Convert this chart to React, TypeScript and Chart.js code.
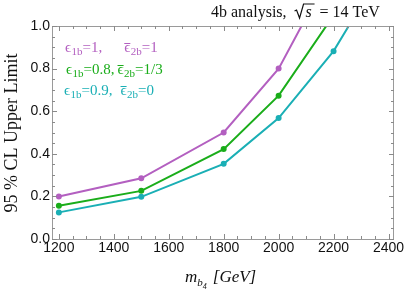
import React, { useEffect, useRef } from "react";
import { Chart, registerables } from "chart.js";

Chart.register(...registerables);

const masses = [1200, 1500, 1800, 2000, 2200, 2400];
const seriesA = [0.2, 0.285, 0.5, 0.8, 1.28, null]; // eps1b=1, eps2b=1
const seriesB = [0.156, 0.226, 0.422, 0.673, 1.05, null]; // eps1b=0.8, eps2b=1/3
const seriesC = [0.125, 0.198, 0.353, 0.568, 0.882, 1.31]; // eps1b=0.9, eps2b=0
const colors = ["#b35fc0", "#1aad1a", "#1aafb5"];
const legendLines = [
  { a: "=1,", b: "=1", gap: 22 },
  { a: "=0.8,", b: "=1/3", gap: 3 },
  { a: "=0.9,", b: "=0", gap: 8 },
];
const xTicks = [1200, 1400, 1600, 1800, 2000, 2200, 2400];
const yTicks = [0, 0.2, 0.4, 0.6, 0.8, 1.0];

const SERIF = "'Liberation Serif', 'DejaVu Serif', serif";

function drawEps(ctx: CanvasRenderingContext2D, x: number, y: number, sub: string, bar: boolean, color: string) {
  ctx.font = `15px ${SERIF}`;
  ctx.fillStyle = color;
  ctx.fillText("ϵ", x, y);
  const w = ctx.measureText("ϵ").width;
  if (bar) {
    ctx.strokeStyle = color;
    ctx.lineWidth = 1;
    ctx.beginPath();
    ctx.moveTo(x, y - 8.5);
    ctx.lineTo(x + w, y - 8.5);
    ctx.stroke();
  }
  ctx.font = `11px ${SERIF}`;
  ctx.fillText(sub, x + w + 0.5, y + 3);
  return x + w + 0.5 + ctx.measureText(sub).width;
}

const decor = {
  id: "decor",
  afterDraw(chart: any) {
    const ctx: CanvasRenderingContext2D = chart.ctx;
    const { left, right, top, bottom } = chart.chartArea;
    const xs = chart.scales.x;
    const ys = chart.scales.y;
    ctx.save();
    // frame
    ctx.strokeStyle = "#9a9a9a";
    ctx.lineWidth = 1;
    ctx.strokeRect(left + 0.5, top + 0.5, right - left - 1, bottom - top);
    // ticks
    ctx.strokeStyle = "#8a8a8a";
    ctx.beginPath();
    for (let v = 1200; v <= 2400; v += 50) {
      const px = Math.round(xs.getPixelForValue(v)) + 0.5;
      const len = v % 200 === 0 ? 5 : 3;
      ctx.moveTo(px, bottom);
      ctx.lineTo(px, bottom - len);
      ctx.moveTo(px, top);
      ctx.lineTo(px, top + len);
    }
    for (let i = 0; i <= 20; i++) {
      const v = i * 0.05;
      const py = Math.round(ys.getPixelForValue(v)) + 0.5;
      const len = i % 4 === 0 ? 5 : 3;
      ctx.moveTo(left, py);
      ctx.lineTo(left + len, py);
      ctx.moveTo(right, py);
      ctx.lineTo(right - len, py);
    }
    ctx.stroke();

    // title
    ctx.fillStyle = "#111";
    ctx.textBaseline = "alphabetic";
    ctx.font = `16px ${SERIF}`;
    let tx = 211;
    const ty = 17;
    ctx.fillText("4b analysis,", tx, ty);
    tx += ctx.measureText("4b analysis,").width + 8;
    // sqrt sign
    ctx.strokeStyle = "#111";
    ctx.lineWidth = 1.2;
    ctx.beginPath();
    ctx.moveTo(tx, ty - 6);
    ctx.lineTo(tx + 2, ty - 7);
    ctx.lineTo(tx + 5, ty + 1);
    ctx.lineTo(tx + 9, ty - 13);
    ctx.lineTo(tx + 20, ty - 13);
    ctx.stroke();
    ctx.font = `italic 16px ${SERIF}`;
    ctx.fillText("s", tx + 11, ty);
    ctx.font = `16px ${SERIF}`;
    ctx.fillText("= 14 TeV", tx + 25, ty);

    // legend-like labels
    const ly = [52, 74, 95];
    const lx = [65, 66, 64];
    legendLines.forEach((l, i) => {
      let x = drawEps(ctx, lx[i], ly[i], "1b", false, colors[i]);
      ctx.font = `15px ${SERIF}`;
      ctx.fillText(l.a, x, ly[i]);
      x += ctx.measureText(l.a).width + l.gap;
      x = drawEps(ctx, x, ly[i], "2b", true, colors[i]);
      ctx.font = `15px ${SERIF}`;
      ctx.fillText(l.b, x, ly[i]);
    });

    // y axis title
    ctx.fillStyle = "#111";
    ctx.save();
    ctx.translate(17, 133);
    ctx.rotate(-Math.PI / 2);
    ctx.font = `18px ${SERIF}`;
    ctx.textAlign = "center";
    ctx.fillText("95 % CL Upper Limit", 0, 0);
    ctx.restore();

    // x axis title
    ctx.font = `italic 17px ${SERIF}`;
    let ax = 185;
    const ay = 282;
    ctx.fillText("m", ax, ay);
    ax += ctx.measureText("m").width;
    ctx.font = `italic 11px ${SERIF}`;
    ctx.fillText("b", ax, ay + 4);
    const bw = ctx.measureText("b").width;
    ctx.font = `italic 8px ${SERIF}`;
    ctx.fillText("4", ax + bw, ay + 7);
    ax += bw + 10;
    ctx.font = `italic 17px ${SERIF}`;
    ctx.fillText("[GeV]", ax, ay);
    ctx.restore();
  },
};

export default function App() {
  const ref = useRef<HTMLCanvasElement>(null);
  useEffect(() => {
    document.body.style.margin = "0";
    const mk = (data: (number | null)[], c: string) => ({
      data: masses.map((m, i) => ({ x: m, y: data[i] })).filter((p) => p.y !== null),
      borderColor: c,
      backgroundColor: c,
      borderWidth: 2,
      pointRadius: 2,
      pointHoverRadius: 2,
      tension: 0,
    });
    const chart = new Chart(ref.current!, {
      type: "line",
      data: { datasets: [mk(seriesA, colors[0]), mk(seriesB, colors[1]), mk(seriesC, colors[2])] as any },
      options: {
        animation: false,
        responsive: false,
        events: [],
        layout: { padding: { top: 26, right: 13, left: 0, bottom: 0 } },
        plugins: { legend: { display: false }, tooltip: { enabled: false } },
        scales: {
          x: {
            type: "linear",
            min: 1175,
            max: 2420,
            grid: { display: false, drawTicks: false },
            border: { display: false },
            afterBuildTicks: (s: any) => {
              s.ticks = xTicks.map((v) => ({ value: v }));
            },
            afterFit: (s: any) => {
              s.height = 54;
            },
            ticks: {
              padding: 1,
              maxRotation: 0,
              autoSkip: false,
              color: "#111",
              font: { family: "'Liberation Sans', Arial, sans-serif", size: 14 },
              callback: (v: any) => String(v),
            },
          },
          y: {
            type: "linear",
            min: 0,
            max: 1,
            grid: { display: false, drawTicks: false },
            border: { display: false },
            afterBuildTicks: (s: any) => {
              s.ticks = yTicks.map((v) => ({ value: v }));
            },
            afterFit: (s: any) => {
              s.width = 52;
            },
            ticks: {
              padding: 2,
              color: "#111",
              font: { family: "'Liberation Sans', Arial, sans-serif", size: 14 },
              callback: (v: any) => Number(v).toFixed(1),
            },
          },
        },
      },
      plugins: [decor],
    });
    return () => chart.destroy();
  }, []);
  return <canvas ref={ref} width={407} height={293} style={{ display: "block" }} />;
}
